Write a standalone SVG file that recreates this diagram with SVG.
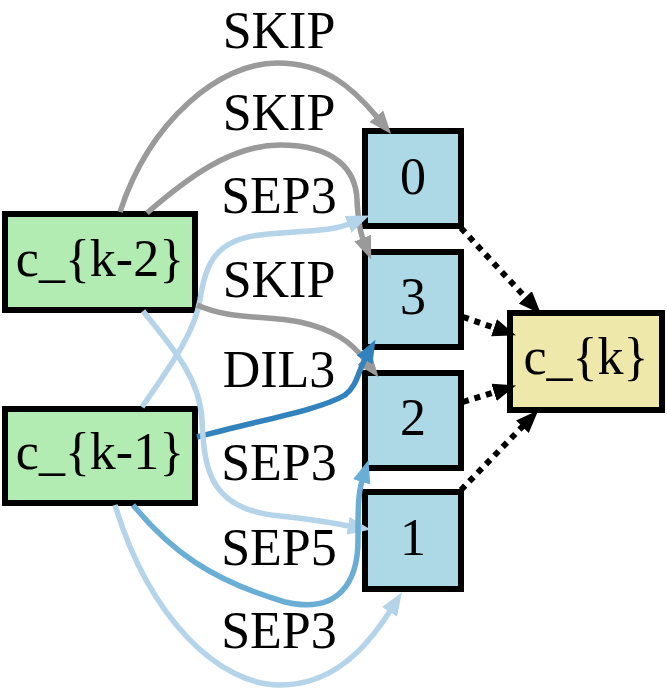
<svg xmlns="http://www.w3.org/2000/svg" width="667" height="691" viewBox="0 0 667 691">
<style>
text{font-family:"Liberation Serif","Times New Roman",serif;font-size:52px;fill:#000;text-anchor:middle}
.n rect{stroke:#000;stroke-width:6}
.g rect{fill:#b3ecb3}
.b rect{fill:#add8e6}
.y rect{fill:#eee8aa}
.e{fill:none;stroke-width:5.5}
.gr{stroke:#9a9a9a}
.lb{stroke:#b5d4ea}
.mb{stroke:#6aaed6}
.db{stroke:#3182bd}
.dt{stroke:#000;stroke-width:6;stroke-dasharray:6 6}
</style>
<defs>
<marker id="agr" markerUnits="userSpaceOnUse" viewBox="0 0 24 20" markerWidth="24" markerHeight="20" refX="1" refY="9" orient="auto"><path d="M0,0 L23,9 L0,18 z" fill="#9a9a9a"/></marker>
<marker id="alb" markerUnits="userSpaceOnUse" viewBox="0 0 24 20" markerWidth="24" markerHeight="20" refX="1" refY="9" orient="auto"><path d="M0,0 L23,9 L0,18 z" fill="#b5d4ea"/></marker>
<marker id="amb" markerUnits="userSpaceOnUse" viewBox="0 0 24 20" markerWidth="24" markerHeight="20" refX="1" refY="9" orient="auto"><path d="M0,0 L23,9 L0,18 z" fill="#6aaed6"/></marker>
<marker id="adb" markerUnits="userSpaceOnUse" viewBox="0 0 24 20" markerWidth="24" markerHeight="20" refX="1" refY="9" orient="auto"><path d="M0,0 L23,9 L0,18 z" fill="#3182bd"/></marker>
<marker id="abk" markerUnits="userSpaceOnUse" viewBox="0 0 24 20" markerWidth="24" markerHeight="20" refX="1" refY="9" orient="auto"><path d="M0,0 L23,9 L0,18 z" fill="#000"/></marker>
</defs>
<g id="ck2" class="n g"><rect x="5" y="214" width="190" height="96"/><text x="100" y="276">c_{k-2}</text></g>
<g id="ck1" class="n g"><rect x="5" y="409" width="190" height="94"/><text x="100" y="469">c_{k-1}</text></g>
<g id="n0" class="n b"><rect x="365" y="131" width="96" height="95"/><text x="413" y="194">0</text></g>
<g id="n3" class="n b"><rect x="365" y="252" width="96" height="95"/><text x="413" y="314">3</text></g>
<g id="n2" class="n b"><rect x="365" y="373" width="96" height="95"/><text x="413" y="435">2</text></g>
<g id="n1" class="n b"><rect x="365" y="492" width="96" height="97"/><text x="413" y="555">1</text></g>
<g id="ck" class="n y"><rect x="510" y="313" width="152" height="97"/><text x="586" y="374">c_{k}</text></g>
<g id="edges">
<path class="e gr" d="M120,212 C150,120 220,63 277,63 C325,63 352,87 377,117" marker-end="url(#agr)"/>
<path class="e gr" d="M147,213 C185,180 230,145 280,145 C335,145 356,170 357,200 C358,218 359,229 363,239" marker-end="url(#agr)"/>
<path class="e lb" d="M142,407 C175,360 195,330 200,300 C205,265 215,240 260,235 C310,230 332,231 349,224" marker-end="url(#alb)"/>
<path class="e gr" d="M197,305 C230,320 265,315 300,322 C335,330 351,342 365,360" marker-end="url(#agr)"/>
<path class="e db" d="M197,437 C260,420 320,410 345,395 C357,386 358,372 365,359" marker-end="url(#adb)"/>
<path class="e lb" d="M143,311 C175,350 200,380 202,420 C204,470 210,510 280,516 C320,520 337,524 349,526" marker-end="url(#alb)"/>
<path class="e mb" d="M133,505 C170,550 210,580 285,602 C340,615 358,580 358,540 C358,510 358,494 362,481" marker-end="url(#amb)"/>
<path class="e lb" d="M115,505 C150,620 220,685 280,685 C330,685 364,652 390,611" marker-end="url(#alb)"/>
<path class="e dt" d="M461,228 L526,298" marker-end="url(#abk)"/>
<path class="e dt" d="M463,317 L495,328" marker-end="url(#abk)"/>
<path class="e dt" d="M463,402 L495,392" marker-end="url(#abk)"/>
<path class="e dt" d="M461,490 L523,426" marker-end="url(#abk)"/>
<text x="279" y="48">SKIP</text>
<text x="279" y="130">SKIP</text>
<text x="279" y="213">SEP3</text>
<text x="279" y="297">SKIP</text>
<text x="279" y="387">DIL3</text>
<text x="279" y="480">SEP3</text>
<text x="279" y="565">SEP5</text>
<text x="279" y="648">SEP3</text>
</g>
</svg>
